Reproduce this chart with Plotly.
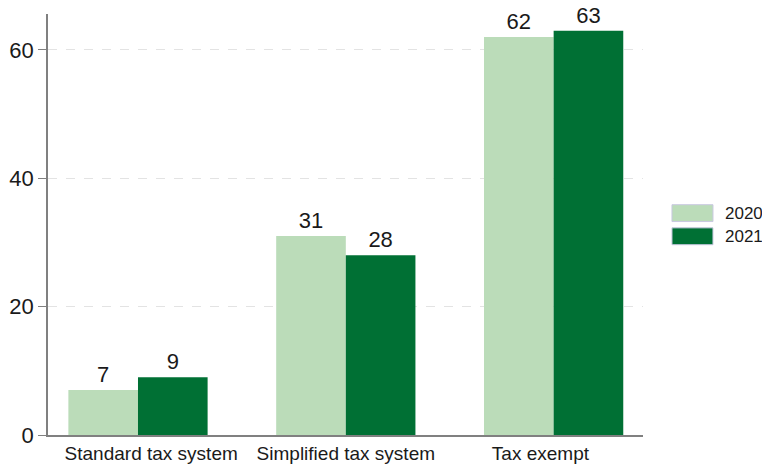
import plotly.graph_objects as go

categories = ["Standard tax system", "Simplified tax system", "Tax exempt"]
tick_labels = ["\u00a0\u00a0\u00a0\u00a0\u00a0Standard tax system",
               "Simplified tax system",
               "Tax exempt\u00a0\u00a0\u00a0\u00a0\u00a0"]
series_names = ["2020", "2021"]
values_2020 = [7, 31, 62]
values_2021 = [9, 28, 63]
colors = ["#bbdcb9", "#007034"]

fig = go.Figure()
for name, vals, col in zip(series_names, [values_2020, values_2021], colors):
    fig.add_trace(go.Bar(
        x=categories, y=vals, name=name,
        marker=dict(color=col, line=dict(width=0)),
        text=[str(v) for v in vals], textposition="outside",
        textfont=dict(size=22, color="#1a1a1a"),
        cliponaxis=False, showlegend=False,
    ))

# legend drawn as paper-space swatches and labels
leg_y = [0.527, 0.472]
for name, col, yy in zip(series_names, colors, leg_y):
    fig.add_shape(type="rect", xref="paper", yref="paper",
                  x0=1.0487, x1=1.1176, y0=yy - 0.020, y1=yy + 0.020,
                  fillcolor=col, line=dict(color="#c8c8e0", width=1))
    fig.add_annotation(text=name, xref="paper", yref="paper", x=1.135, y=yy,
                       xanchor="left", yanchor="middle", showarrow=False,
                       font=dict(size=17, color="#1a1a1a"))

fig.update_layout(
    width=762, height=464,
    margin=dict(l=48, r=119, t=14, b=29),
    barmode="group", bargap=0.33, bargroupgap=0,
    plot_bgcolor="white", paper_bgcolor="white",
    font=dict(family="Liberation Sans, Arial, sans-serif", color="#1a1a1a"),
    showlegend=False,
    xaxis=dict(range=[-0.433, 2.43], showline=True, linecolor="#808080", linewidth=1.5,
               ticks="", tickfont=dict(size=19), showgrid=False, automargin=False,
               tickmode="array", tickvals=categories, ticktext=tick_labels),
    yaxis=dict(range=[0, 65.6], showline=True, linecolor="#808080", linewidth=1.5,
               ticks="outside", ticklen=8, tickcolor="#808080", tickfont=dict(size=22),
               tickvals=[0, 20, 40, 60], showgrid=True, gridcolor="#e3e3e3",
               griddash="dash", zeroline=False, automargin=False),
)
fig.write_html("out.html")
